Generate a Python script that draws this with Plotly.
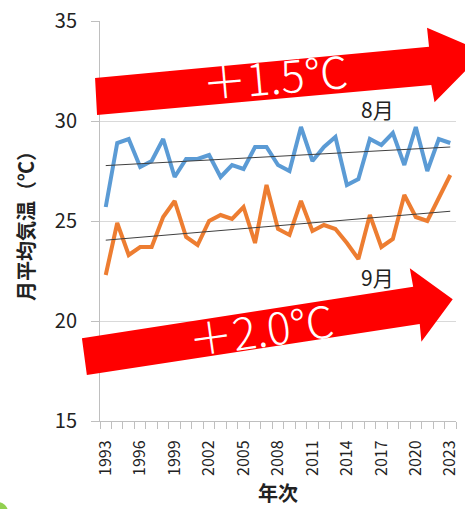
import numpy as np
import plotly.graph_objects as go

# Monthly mean temperature (°C), 1993-2023
years = list(range(1993, 2024))
aug = [25.7, 28.9, 29.1, 27.7, 28.0, 29.1, 27.2, 28.1, 28.1, 28.3,
       27.2, 27.8, 27.6, 28.7, 28.7, 27.8, 27.5, 29.7, 28.0, 28.7,
       29.2, 26.8, 27.1, 29.1, 28.8, 29.4, 27.8, 29.7, 27.5, 29.1, 28.9]
sep = [22.3, 24.9, 23.3, 23.7, 23.7, 25.2, 26.0, 24.2, 23.8, 25.0,
       25.3, 25.1, 25.7, 23.9, 26.8, 24.6, 24.3, 26.0, 24.5, 24.8,
       24.6, 23.9, 23.1, 25.3, 23.7, 24.1, 26.3, 25.2, 25.0, 26.1, 27.3]
y_ticks = [15, 20, 25, 30, 35]
x_label_years = list(range(1993, 2024, 3))
series_names = ["8月", "9月"]
trend_labels = ["＋1.5℃", "＋2.0℃"]

FONT = "Noto Sans CJK JP"
BLUE = "#5B9BD5"
ORANGE = "#ED7D31"

# plot area in pixels
L, R, T, B = 100, 5, 21, 88
W, H = 465, 509
PW, PH = W - L - R, H - T - B


def px(x):
    return (x - L) / PW


def py(y):
    return (H - B - y) / PH


def poly(points):
    return "M " + " L ".join(f"{px(x):.4f},{py(y):.4f}" for x, y in points) + " Z"


yrs = np.array(years, dtype=float)
fig = go.Figure()

for vals, color in [(aug, BLUE), (sep, ORANGE)]:
    fig.add_trace(go.Scatter(x=years, y=vals, mode="lines",
                             line=dict(color=color, width=4),
                             showlegend=False, hoverinfo="skip"))
    k, b = np.polyfit(yrs, np.array(vals), 1)
    fig.add_trace(go.Scatter(x=[years[0], years[-1]],
                             y=[k * years[0] + b, k * years[-1] + b],
                             mode="lines", line=dict(color="#404040", width=1),
                             showlegend=False, hoverinfo="skip"))

# big red arrows
arrow_top = [(95, 78), (432.7, 46.7), (430.7, 27.7), (488, 52),
             (438.3, 102.3), (435, 85), (97, 115)]
arrow_bot = [(81.7, 338.3), (416.7, 286.7), (413.3, 268.3), (456.7, 299.3),
             (425, 341.7), (423.3, 324), (86.7, 375)]
shapes = []
for pts in (arrow_top, arrow_bot):
    shapes.append(dict(type="path", path=poly(pts), xref="paper", yref="paper",
                       fillcolor="#FF0000", line=dict(width=0), layer="above"))
# small green mark at the lower left corner
shapes.append(dict(type="circle", xref="paper", yref="paper",
                   x0=px(-14), x1=px(7), y0=py(522), y1=py(502),
                   fillcolor="#92D050", line=dict(width=0), layer="above"))


def label(x, y, text, size, color, angle=0, weight=400):
    return dict(x=px(x), y=py(y), xref="paper", yref="paper", text=text,
                showarrow=False, textangle=angle,
                xanchor="center", yanchor="middle",
                font=dict(family=FONT, size=size, color=color, weight=weight))


annotations = [
    label(277, 75, trend_labels[0], 44, "white", -5, 300),
    label(263, 328, trend_labels[1], 44, "white", -8, 300),
    label(381, 109, series_names[0], 21, "#222222"),
    label(381, 277, series_names[1], 21, "#222222"),
]

fig.update_layout(
    width=W, height=H,
    margin=dict(l=L, r=R, t=T, b=B, pad=0),
    paper_bgcolor="white", plot_bgcolor="white",
    font=dict(family=FONT, color="#222222"),
    shapes=shapes, annotations=annotations,
    xaxis=dict(
        range=[1992.5, 2023.5], tickmode="array", tickvals=x_label_years,
        ticktext=[str(v) for v in x_label_years], tickangle=-90,
        ticks="", ticklabelstandoff=12,
        tickfont=dict(family=FONT, size=16, color="#222222"),
        minor=dict(ticks="outside", tick0=1992.5, dtick=1, ticklen=7,
                   tickcolor="#BFBFBF", showgrid=False),
        showgrid=False, showline=True, linecolor="#BFBFBF", linewidth=1,
        zeroline=False, fixedrange=True,
        title=dict(text="<b>年次</b>", standoff=12,
                   font=dict(family=FONT, size=20, color="#222222")),
    ),
    yaxis=dict(
        range=[15, 35], tickmode="array", tickvals=y_ticks,
        ticks="outside", ticklen=8, tickcolor="#BFBFBF",
        ticklabelstandoff=10,
        tickfont=dict(family=FONT, size=20, color="#222222"),
        showgrid=True, gridcolor="#D9D9D9", gridwidth=1,
        showline=True, linecolor="#BFBFBF", linewidth=1,
        zeroline=False, fixedrange=True,
        title=dict(text="<b>月平均気温（℃）</b>", standoff=14,
                   font=dict(family=FONT, size=20, color="#222222")),
    ),
)

fig.write_html("out.html")
